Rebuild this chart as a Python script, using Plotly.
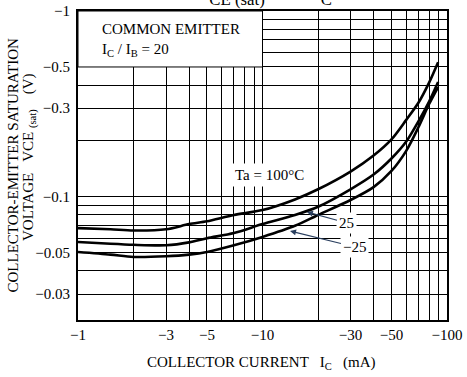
import plotly.graph_objects as go
import math

# ---- data (|I_C| in mA, |V_CE(sat)| in V) ----
ic = [1, 1.5, 2, 3, 4, 5, 7, 10, 15, 20, 30, 40, 50, 60, 70, 80, 89.5]
vce_100 = [0.068, 0.067, 0.066, 0.067, 0.0715, 0.074, 0.080, 0.085, 0.097, 0.110,
           0.137, 0.167, 0.204, 0.259, 0.321, 0.412, 0.53]
vce_25 = [0.0573, 0.056, 0.0553, 0.055, 0.057, 0.060, 0.064, 0.0715, 0.080, 0.0886,
          0.110, 0.132, 0.161, 0.198, 0.255, 0.326, 0.415]
vce_m25 = [0.0506, 0.049, 0.0476, 0.048, 0.049, 0.0506, 0.055, 0.061, 0.070, 0.080,
           0.0963, 0.113, 0.138, 0.1765, 0.237, 0.316, 0.39]

x_tickvals = [1, 3, 5, 10, 30, 50, 100]
x_ticktext = ["\u22121", "\u22123", "\u22125", "\u221210", "\u221230", "\u221250", "\u2212100"]
x_minor = [2, 4, 6, 7, 8, 9, 20, 40, 60, 70, 80, 90]
y_tickvals = [1, 0.5, 0.3, 0.1, 0.05, 0.03]
y_ticktext = ["\u22121", "\u22120.5", "\u22120.3", "\u22120.1", "\u22120.05", "\u22120.03"]
y_minor = [0.9, 0.8, 0.7, 0.6, 0.4, 0.2, 0.09, 0.08, 0.07, 0.06, 0.04]

FONT = "Liberation Serif"
L = math.log10

fig = go.Figure()
for ys in (vce_100, vce_25, vce_m25):
    fig.add_trace(go.Scatter(x=ic, y=ys, mode="lines",
                             line=dict(color="black", width=2.6, shape="spline", smoothing=0.8),
                             showlegend=False, hoverinfo="skip"))

axis_common = dict(type="log", showline=True, linecolor="black", linewidth=2, mirror=True,
                   showgrid=True, gridcolor="black", gridwidth=1, ticks="", automargin=False,
                   tickfont=dict(family=FONT, size=15, color="black"))
fig.update_xaxes(range=[0, 2], tickvals=x_tickvals, ticktext=x_ticktext,
                 minor=dict(tickvals=x_minor, showgrid=True, gridcolor="black", gridwidth=1, ticks=""),
                 **axis_common)
fig.update_yaxes(range=[L(0.0218), 0], tickvals=y_tickvals, ticktext=y_ticktext,
                 minor=dict(tickvals=y_minor, showgrid=True, gridcolor="black", gridwidth=1, ticks=""),
                 ticklabelstandoff=3, **axis_common)

# white box for the condition text
fig.add_shape(type="rect", xref="x", yref="y", x0=1, x1=10, y0=0.5, y1=1,
              fillcolor="white", line=dict(color="black", width=1), layer="between")

tf = dict(family=FONT, size=15, color="black")
fig.add_annotation(xref="paper", yref="paper", x=(100 - 78) / 369, y=(320 - 29) / 309,
                   xanchor="left", yanchor="middle", text="COMMON EMITTER", showarrow=False, font=tf)
fig.add_annotation(xref="paper", yref="paper", x=(100 - 78) / 369, y=(320 - 50) / 309,
                   xanchor="left", yanchor="middle", text="I<sub>C</sub> / I<sub>B</sub> = 20",
                   showarrow=False, font=tf)

fig.add_annotation(x=L(10.85), y=L(0.131), text="Ta = 100\u00b0C", showarrow=False,
                   font=tf, bgcolor="white", borderpad=3)
fig.add_annotation(x=L(17.4), y=L(0.083), ax=L(28.7), ay=L(0.0725), axref="x", ayref="y",
                   text="25", showarrow=True, arrowhead=2, arrowsize=1, arrowwidth=1.2,
                   font=tf, bgcolor="white", borderpad=2)
fig.add_annotation(x=L(14.1), y=L(0.0656), ax=L(31.7), ay=L(0.0539), axref="x", ayref="y",
                   text="\u221225", showarrow=True, arrowhead=2, arrowsize=1, arrowwidth=1.2,
                   font=tf, bgcolor="white", borderpad=2)

# axis titles
fig.add_annotation(xref="paper", yref="paper", x=(261 - 78) / 369, y=(320 - 363) / 309,
                   xanchor="center", yanchor="middle", showarrow=False, font=tf,
                   text="COLLECTOR CURRENT   I<sub>C</sub>   (mA)")
fig.add_annotation(xref="paper", yref="paper", x=(12.5 - 78) / 369, y=(320 - 166) / 309,
                   xanchor="center", yanchor="middle", textangle=-90, showarrow=False, font=tf,
                   text="COLLECTOR-EMITTER SATURATION")
fig.add_annotation(xref="paper", yref="paper", x=(29 - 78) / 369, y=(320 - 158) / 309,
                   xanchor="center", yanchor="middle", textangle=-90, showarrow=False, font=tf,
                   text="VOLTAGE   VCE <sub>(sat)</sub>    (V)")
# clipped title at the very top
fig.add_annotation(xref="paper", yref="paper", x=(262 - 78) / 369, y=(320 - 11) / 309,
                   xanchor="center", yanchor="bottom", showarrow=False,
                   font=dict(family=FONT, size=24, color="black"),
                   text="V<sub>CE (sat)</sub>  \u2014  I<sub>C</sub>")

fig.update_layout(width=467, height=377, margin=dict(l=78, r=20, t=11, b=57, autoexpand=False),
                  paper_bgcolor="white", plot_bgcolor="white", showlegend=False)

fig.write_html("out.html", config={"displayModeBar": False},
               post_script="document.body.style.margin='0px';document.body.style.overflow='hidden';")
